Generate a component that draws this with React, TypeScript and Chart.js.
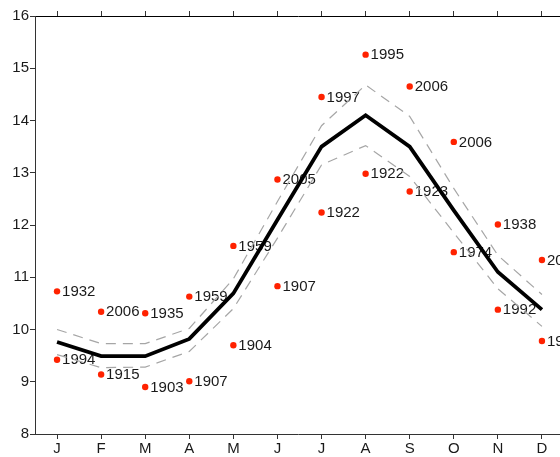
import React, { useEffect, useRef } from "react";
import { Chart, registerables } from "chart.js";

Chart.register(...registerables);

const MONTHS = ["J", "F", "M", "A", "M", "J", "J", "A", "S", "O", "N", "D"];
const MEAN = [9.76, 9.49, 9.49, 9.82, 10.69, 12.1, 13.5, 14.1, 13.5, 12.28, 11.1, 10.38];
const UPPER = [10.0, 9.73, 9.73, 10.02, 10.97, 12.45, 13.9, 14.68, 14.08, 12.7, 11.42, 10.67];
const LOWER = [9.52, 9.27, 9.28, 9.58, 10.4, 11.75, 13.15, 13.52, 12.93, 11.85, 10.78, 10.06];
const HIGH_VALUES = [10.73, 10.34, 10.31, 10.63, 11.6, 12.87, 14.45, 15.26, 14.65, 13.59, 12.01, 11.33];
const HIGH_YEARS = ["1932", "2006", "1935", "1959", "1959", "2005", "1997", "1995", "2006", "2006", "1938", "2006"];
const LOW_VALUES = [9.42, 9.14, 8.9, 9.01, 9.7, 10.83, 12.24, 12.98, 12.64, 11.48, 10.38, 9.78];
const LOW_YEARS = ["1994", "1915", "1903", "1907", "1904", "1907", "1922", "1922", "1923", "1974", "1992", "1993"];
const Y_MIN = 8;
const Y_MAX = 16;

const FONT = "'Liberation Sans', Arial, sans-serif";
const AXIS_COLOR = "#333333";

const toXY = (arr: number[]) => arr.map((v, i) => ({ x: i + 1, y: v }));

const yearLabels = {
  id: "yearLabels",
  beforeDatasetsDraw(chart: any) {
    const ctx = chart.ctx;
    ctx.save();
    ctx.font = `15px ${FONT}`;
    ctx.fillStyle = "#1a1a1a";
    ctx.textAlign = "left";
    ctx.textBaseline = "middle";
    chart.data.datasets.forEach((ds: any, di: number) => {
      if (!ds.years) return;
      const meta = chart.getDatasetMeta(di);
      meta.data.forEach((el: any, i: number) => {
        ctx.fillText(ds.years[i], el.x + 5, el.y + 0.5);
      });
    });
    ctx.restore();
  },
};

export default function App() {
  const ref = useRef<HTMLCanvasElement | null>(null);
  useEffect(() => {
    if (!ref.current) return;
    const xTicks = (scale: any) => {
      scale.ticks = MONTHS.map((_, i) => ({ value: i + 1 }));
    };
    const chart = new Chart(ref.current, {
      type: "line",
      data: {
        datasets: [
          {
            data: toXY(UPPER),
            borderColor: "#a6a6a6",
            borderWidth: 1.2,
            borderDash: [10, 7],
            pointRadius: 0,
            fill: false,
            tension: 0,
          },
          {
            data: toXY(LOWER),
            borderColor: "#a6a6a6",
            borderWidth: 1.2,
            borderDash: [10, 7],
            pointRadius: 0,
            fill: false,
            tension: 0,
          },
          {
            data: toXY(MEAN),
            borderColor: "#000000",
            borderWidth: 3.8,
            borderJoinStyle: "miter",
            pointRadius: 0,
            fill: false,
            tension: 0,
          },
          {
            data: toXY(HIGH_VALUES),
            years: HIGH_YEARS,
            showLine: false,
            pointRadius: 3.2,
            pointBorderWidth: 0,
            pointBackgroundColor: "#ff2200",
            pointBorderColor: "#ff2200",
          } as any,
          {
            data: toXY(LOW_VALUES),
            years: LOW_YEARS,
            showLine: false,
            pointRadius: 3.2,
            pointBorderWidth: 0,
            pointBackgroundColor: "#ff2200",
            pointBorderColor: "#ff2200",
          } as any,
        ],
      },
      options: {
        animation: false,
        responsive: false,
        devicePixelRatio: 1,
        layout: { padding: 0 },
        plugins: {
          legend: { display: false },
          tooltip: { enabled: false },
        },
        scales: {
          x: {
            type: "linear",
            position: "bottom",
            min: 0.5,
            max: 12.432,
            afterBuildTicks: xTicks,
            afterFit: (s: any) => {
              s.height = 23;
            },
            grid: {
              drawOnChartArea: false,
              drawTicks: true,
              tickLength: 5,
              color: AXIS_COLOR,
            },
            border: { display: true, color: AXIS_COLOR, width: 1 },
            ticks: {
              padding: 1,
              color: "#1a1a1a",
              font: { family: FONT, size: 15 },
              maxRotation: 0,
              autoSkip: false,
              callback: (v: any) => MONTHS[Math.round(v) - 1] ?? "",
            },
          },
          xTop: {
            type: "linear",
            position: "top",
            min: 0.5,
            max: 12.432,
            afterBuildTicks: xTicks,
            afterFit: (s: any) => {
              s.height = 16;
            },
            grid: {
              drawOnChartArea: false,
              drawTicks: true,
              tickLength: 5,
              color: AXIS_COLOR,
            },
            border: { display: true, color: "#000000", width: 1 },
            ticks: {
              autoSkip: false,
              callback: () => "",
            },
          },
          y: {
            type: "linear",
            min: Y_MIN,
            max: Y_MAX,
            afterFit: (s: any) => {
              s.width = 35;
            },
            grid: {
              drawOnChartArea: false,
              drawTicks: true,
              tickLength: 5,
              color: AXIS_COLOR,
            },
            border: { display: true, color: AXIS_COLOR, width: 1 },
            ticks: {
              stepSize: 1,
              padding: 1,
              color: "#1a1a1a",
              font: { family: FONT, size: 15 },
            },
          },
        },
      },
      plugins: [yearLabels],
    } as any);
    return () => chart.destroy();
  }, []);
  return (
    <div
      style={{
        position: "fixed",
        left: 0,
        top: 0,
        width: 560,
        height: 457,
        overflow: "hidden",
        background: "#ffffff",
      }}
    >
      <canvas ref={ref} width={565} height={457} style={{ display: "block" }} />
    </div>
  );
}
